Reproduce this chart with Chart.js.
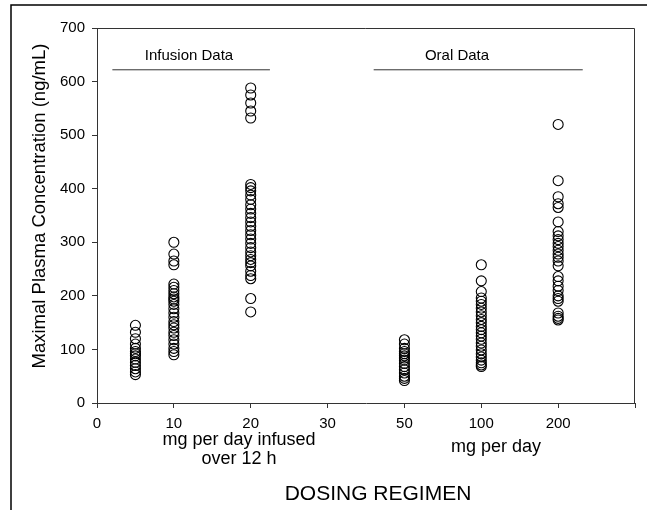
<!DOCTYPE html>
<html>
<head>
<meta charset="utf-8">
<script src="https://cdn.jsdelivr.net/npm/chart.js@4.4.1/dist/chart.umd.min.js"></script>
<style>
  html, body { margin: 0; padding: 0; background: #fff; }
  canvas { display: block; }
</style>
</head>
<body>
<canvas id="plot" width="647" height="510"></canvas>
<script>
// ---- data ----
const xTickLabels = ['0', '10', '20', '30', '50', '100', '200', ''];
// position of each dose group on the x axis (index into the tick slots)
const dosePositions = [0.5, 1, 2, 4, 5, 6];
const infusion5 = [145, 132, 120, 110, 102, 96, 92, 88, 82, 76, 70, 64, 58, 53];
const infusion10 = [300, 278, 265, 258, 222, 216, 210, 204, 198, 194, 190, 184, 176, 168, 160, 152, 146, 140, 132, 126, 118, 110, 102, 96, 90];
const infusion20 = [588, 575, 560, 545, 532, 408, 402, 396, 388, 380, 370, 362, 354, 346, 338, 330, 322, 314, 306, 298, 290, 282, 275, 268, 262, 256, 246, 238, 232, 195, 170];
const oral50 = [118, 110, 102, 96, 92, 88, 84, 80, 74, 68, 62, 56, 50, 46, 42];
const oral100 = [258, 228, 208, 196, 190, 184, 177, 170, 163, 156, 150, 143, 137, 131, 125, 119, 112, 106, 99, 92, 86, 80, 75, 71, 68];
const oral200 = [520, 415, 385, 372, 365, 338, 320, 312, 305, 298, 292, 285, 278, 272, 265, 256, 236, 228, 218, 210, 200, 195, 190, 168, 162, 158, 155];

const groups = [infusion5, infusion10, infusion20, oral50, oral100, oral200];

const FONT = '"Liberation Sans", Arial, Helvetica, sans-serif';

// ---- extra text and frame lines ----
const decorations = {
  id: 'decorations',
  afterDraw(chart) {
    const ctx = chart.ctx;
    const a = chart.chartArea;
    const xs = chart.scales.x;
    const ys = chart.scales.y;
    ctx.save();

    // outer frame (top and left only)
    ctx.strokeStyle = '#000';
    ctx.lineWidth = 1.5;
    ctx.beginPath();
    ctx.moveTo(11, 510);
    ctx.lineTo(11, 5);
    ctx.lineTo(647, 5);
    ctx.stroke();

    // top and right edge of the plot box
    ctx.strokeStyle = '#333';
    ctx.lineWidth = 1;
    ctx.beginPath();
    ctx.moveTo(a.left, a.top + 0.5);
    ctx.lineTo(a.right - 0.5, a.top + 0.5);
    ctx.lineTo(a.right - 0.5, a.bottom);
    ctx.stroke();

    // group annotations
    ctx.fillStyle = '#000';
    ctx.font = '15px ' + FONT;
    ctx.textAlign = 'center';
    ctx.textBaseline = 'middle';
    const lineY = ys.getPixelForValue(622);
    ctx.beginPath();
    ctx.moveTo(xs.getPixelForValue(0.2), lineY);
    ctx.lineTo(xs.getPixelForValue(2.25), lineY);
    ctx.moveTo(xs.getPixelForValue(3.6), lineY);
    ctx.lineTo(xs.getPixelForValue(6.32), lineY);
    ctx.stroke();
    ctx.fillText('Infusion Data', 189, 56);
    ctx.fillText('Oral Data', 457, 56);

    // y axis title
    ctx.save();
    ctx.translate(40, 206);
    ctx.rotate(-Math.PI / 2);
    ctx.font = '18.5px ' + FONT;
    ctx.fillText('Maximal Plasma Concentration (ng/mL)', 0, 0);
    ctx.restore();

    // x axis sub titles
    ctx.font = '18px ' + FONT;
    ctx.fillText('mg per day infused', 239, 440);
    ctx.fillText('over 12 h', 239, 459);
    ctx.fillText('mg per day', 496, 447);

    ctx.font = '21px ' + FONT;
    ctx.fillText('DOSING REGIMEN', 378, 494);
    ctx.restore();
  }
};

const datasets = groups.map((vals, i) => ({
  data: vals.map(v => ({ x: dosePositions[i], y: v })),
  pointRadius: 5,
  pointBorderWidth: 1.1,
  borderColor: '#000',
  backgroundColor: 'rgba(255,255,255,0)',
  pointHoverRadius: 5
}));

new Chart(document.getElementById('plot').getContext('2d'), {
  type: 'scatter',
  data: { datasets: datasets },
  options: {
    responsive: false,
    animation: false,
    devicePixelRatio: 1,
    layout: { padding: { top: 28, right: 12, left: 0, bottom: 0 } },
    plugins: {
      legend: { display: false },
      tooltip: { enabled: false }
    },
    scales: {
      x: {
        type: 'linear',
        min: 0,
        max: 7,
        afterBuildTicks: (scale) => {
          scale.ticks = xTickLabels.map((t, i) => ({ value: i }));
        },
        ticks: {
          autoSkip: false,
          maxRotation: 0,
          padding: 7,
          color: '#000',
          font: { family: FONT, size: 15 },
          callback: (v) => xTickLabels[v]
        },
        grid: { drawOnChartArea: false, tickLength: 5, color: '#333' },
        border: { color: '#333', width: 1 },
        afterFit: (scale) => { scale.height = 107; }
      },
      y: {
        min: 0,
        max: 700,
        ticks: {
          stepSize: 100,
          padding: 7,
          color: '#000',
          font: { family: FONT, size: 15 }
        },
        grid: { drawOnChartArea: false, tickLength: 5, color: '#333' },
        border: { color: '#333', width: 1 },
        afterFit: (scale) => { scale.width = 97; }
      }
    }
  },
  plugins: [decorations]
});
</script>
</body>
</html>
